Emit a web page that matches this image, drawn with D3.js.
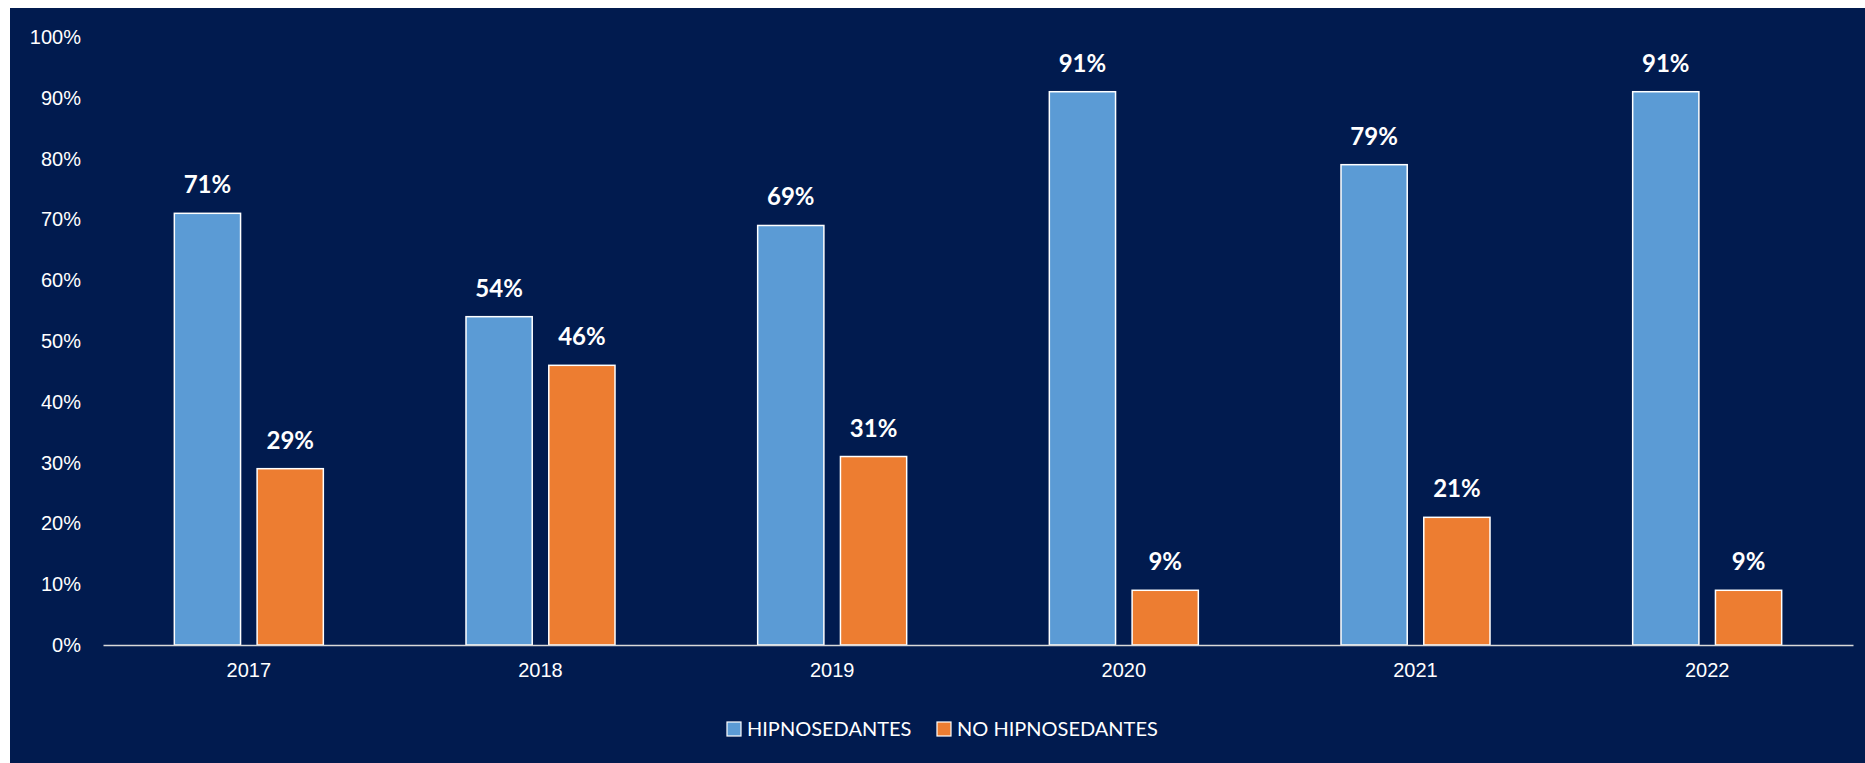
<!DOCTYPE html>
<meta charset="utf-8">
<head>
<style>
html, body {margin:0; padding:0; background:white;}
</style>
</head>
<script src="https://d3js.org/d3.v7.min.js"></script>
<div id="chart"></div>
<script>

// data
var years = ["2017", "2018", "2019", "2020", "2021", "2022"]
var series = ["HIPNOSEDANTES", "NO HIPNOSEDANTES"]
var hipno = [71, 54, 69, 91, 79, 91]
var noHipno = [29, 46, 31, 9, 21, 9]
var yTicks = [0, 10, 20, 30, 40, 50, 60, 70, 80, 90, 100]
var colors = ["#5B9BD5", "#ED7D31"]

var W = 1865, H = 763
var margin = {top: 37, right: 12, bottom: 118, left: 103}
var width = W - margin.left - margin.right,
    height = H - margin.top - margin.bottom

var svg0 = d3.select("#chart").append("svg")
  .attr("width", W).attr("height", H)
  .style("display", "block")
  .style("font-family", "Lato, 'Open Sans', sans-serif")

// navy panel
svg0.append("rect")
  .attr("x", 10).attr("y", 8)
  .attr("width", W - 10).attr("height", H - 8)
  .attr("fill", "#011B4F")

var svg = svg0.append("g")
  .attr("transform", "translate(" + margin.left + "," + margin.top + ")")

var x = d3.scaleBand().domain(years).range([0, width]).padding(0)
var x1 = d3.scaleBand().domain(series).range([-74.5, 74.5]).paddingInner(0.2)
var y = d3.scaleLinear().domain([0, 100]).range([height, 0])

// y axis
var yAxis = svg.append("g")
  .call(d3.axisLeft(y).tickValues(yTicks).tickSize(0).tickPadding(22)
    .tickFormat(function(d) { return d + "%" }))
yAxis.select(".domain").remove()
yAxis.selectAll("text")
  .style("font-size", "20px")
  .attr("fill", "white")

// bars
var table = years.map(function(yr, i) {
  return {year: yr, values: [hipno[i], noHipno[i]]}
})

var groups = svg.selectAll(".grp")
  .data(table)
  .enter().append("g")
  .attr("transform", function(d) { return "translate(" + (x(d.year) + x.bandwidth() / 2) + ",0)" })

groups.selectAll("rect")
  .data(function(d) { return d.values.map(function(v, j) { return {s: series[j], v: v, j: j} }) })
  .enter().append("rect")
  .attr("x", function(d) { return x1(d.s) })
  .attr("y", function(d) { return y(d.v) })
  .attr("width", x1.bandwidth())
  .attr("height", function(d) { return height - y(d.v) })
  .attr("fill", function(d) { return colors[d.j] })
  .attr("stroke", "white")
  .attr("stroke-width", 1.5)

groups.selectAll(".lbl")
  .data(function(d) { return d.values.map(function(v, j) { return {s: series[j], v: v} }) })
  .enter().append("text")
  .attr("x", function(d) { return x1(d.s) + x1.bandwidth() / 2 })
  .attr("y", function(d) { return y(d.v) - 20 })
  .attr("text-anchor", "middle")
  .attr("fill", "white")
  .style("font-size", "24px")
  .style("font-weight", "bold")
  .text(function(d) { return d.v + "%" })

// x axis
var xAxis = svg.append("g")
  .attr("transform", "translate(0," + height + ")")
  .call(d3.axisBottom(x).tickSize(0).tickPadding(18))
xAxis.select(".domain")
  .attr("stroke", "#D9D9D9")
  .attr("stroke-width", 1.5)
xAxis.selectAll("text")
  .style("font-size", "20px")
  .attr("fill", "white")

// legend
var legend = svg0.append("g").attr("transform", "translate(727,729)")
var legX = [0, 210]
series.forEach(function(s, i) {
  var g = legend.append("g").attr("transform", "translate(" + legX[i] + ",0)")
  g.append("rect")
    .attr("x", 0).attr("y", -7)
    .attr("width", 14).attr("height", 14)
    .attr("fill", colors[i])
    .attr("stroke", "white")
    .attr("stroke-width", 1.2)
  g.append("text")
    .attr("x", 20).attr("y", 7)
    .attr("fill", "white")
    .style("font-size", "20px")
    .text(s)
})

</script>
</html>
